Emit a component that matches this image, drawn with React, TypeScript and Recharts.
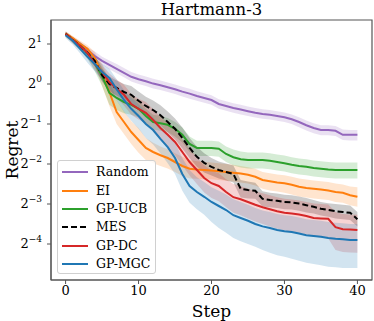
import React from "react";
import { ComposedChart, Line, Area, XAxis, YAxis, ReferenceArea, Label } from "recharts";

// log2(regret) per step
const steps = [0, 1, 2, 3, 4, 5, 6, 7, 8, 9, 10, 11, 12, 13, 14, 15, 16, 17, 18, 19, 20, 21, 22, 23, 24, 25, 26, 27, 28, 29, 30, 31, 32, 33, 34, 35, 36, 37, 38, 39, 40];

const randomMean = [1.27, 1.12, 0.98, 0.85, 0.7, 0.58, 0.48, 0.38, 0.28, 0.18, 0.12, 0.07, 0.01, -0.03, -0.08, -0.13, -0.19, -0.24, -0.3, -0.35, -0.4, -0.5, -0.55, -0.6, -0.64, -0.68, -0.72, -0.75, -0.77, -0.8, -0.83, -0.88, -0.95, -1.03, -1.1, -1.15, -1.15, -1.17, -1.27, -1.27, -1.27];
const randomHi = [1.32, 1.18, 1.05, 0.92, 0.81, 0.68, 0.59, 0.5, 0.4, 0.3, 0.24, 0.19, 0.13, 0.09, 0.04, -0.01, -0.07, -0.12, -0.18, -0.23, -0.28, -0.38, -0.43, -0.48, -0.52, -0.56, -0.6, -0.63, -0.65, -0.68, -0.71, -0.76, -0.83, -0.91, -0.98, -1.03, -1.03, -1.05, -1.14, -1.15, -1.15];
const randomLo = [1.2, 1.05, 0.9, 0.77, 0.6, 0.48, 0.37, 0.27, 0.17, 0.06, 0.0, -0.05, -0.11, -0.15, -0.2, -0.25, -0.31, -0.37, -0.42, -0.47, -0.52, -0.62, -0.67, -0.72, -0.76, -0.8, -0.84, -0.87, -0.89, -0.92, -0.95, -1.0, -1.08, -1.16, -1.23, -1.28, -1.28, -1.3, -1.4, -1.41, -1.41];

const eiMean = [1.27, 1.14, 1.0, 0.88, 0.65, 0.25, -0.2, -0.7, -0.95, -1.2, -1.4, -1.6, -1.7, -1.78, -1.85, -1.95, -2.05, -2.12, -2.14, -2.15, -2.16, -2.18, -2.2, -2.22, -2.24, -2.27, -2.32, -2.4, -2.43, -2.46, -2.48, -2.52, -2.57, -2.6, -2.62, -2.64, -2.66, -2.7, -2.72, -2.78, -2.82];
const eiHi = [1.32, 1.2, 1.08, 0.97, 0.8, 0.5, 0.1, -0.4, -0.68, -0.93, -1.1, -1.35, -1.47, -1.56, -1.63, -1.73, -1.82, -1.9, -1.93, -1.95, -1.96, -1.98, -2.0, -2.02, -2.05, -2.08, -2.12, -2.2, -2.23, -2.26, -2.28, -2.32, -2.36, -2.39, -2.41, -2.43, -2.45, -2.49, -2.51, -2.56, -2.58];
const eiLo = [1.2, 1.06, 0.9, 0.75, 0.45, -0.05, -0.55, -1.0, -1.25, -1.5, -1.72, -1.9, -1.98, -2.05, -2.11, -2.2, -2.3, -2.36, -2.37, -2.38, -2.38, -2.4, -2.42, -2.44, -2.46, -2.49, -2.54, -2.62, -2.66, -2.69, -2.72, -2.76, -2.81, -2.84, -2.86, -2.88, -2.9, -2.95, -2.97, -3.03, -3.07];

const ucbMean = [1.25, 1.1, 0.95, 0.78, 0.52, 0.2, -0.22, -0.35, -0.45, -0.52, -0.62, -0.8, -0.95, -0.98, -1.02, -1.12, -1.27, -1.5, -1.6, -1.6, -1.6, -1.62, -1.75, -1.83, -1.88, -1.9, -1.9, -1.9, -1.92, -1.95, -1.98, -2.02, -2.05, -2.07, -2.1, -2.12, -2.14, -2.15, -2.15, -2.15, -2.15];
const ucbHi = [1.3, 1.17, 1.04, 0.9, 0.7, 0.43, 0.05, -0.1, -0.22, -0.3, -0.42, -0.62, -0.77, -0.8, -0.85, -0.95, -1.09, -1.31, -1.42, -1.42, -1.42, -1.44, -1.56, -1.64, -1.69, -1.71, -1.71, -1.71, -1.73, -1.76, -1.79, -1.83, -1.86, -1.88, -1.91, -1.93, -1.95, -1.96, -1.96, -1.96, -1.96];
const ucbLo = [1.18, 1.02, 0.84, 0.63, 0.32, -0.05, -0.52, -0.65, -0.73, -0.77, -0.84, -1.0, -1.14, -1.17, -1.2, -1.31, -1.46, -1.7, -1.8, -1.8, -1.8, -1.82, -1.95, -2.04, -2.09, -2.11, -2.11, -2.11, -2.13, -2.16, -2.19, -2.23, -2.26, -2.28, -2.31, -2.33, -2.35, -2.36, -2.36, -2.36, -2.36];

const mesMean = [1.25, 1.1, 0.95, 0.78, 0.58, 0.22, 0.0, -0.1, -0.2, -0.27, -0.42, -0.55, -0.65, -0.78, -0.95, -1.12, -1.35, -1.6, -1.82, -1.97, -2.07, -2.15, -2.2, -2.25, -2.62, -2.65, -2.67, -2.87, -2.9, -2.92, -2.95, -2.96, -2.99, -3.03, -3.07, -3.12, -3.15, -3.18, -3.2, -3.22, -3.38];
const mesHi = [1.3, 1.17, 1.04, 0.9, 0.72, 0.38, 0.18, 0.09, 0.0, -0.05, -0.19, -0.32, -0.41, -0.53, -0.69, -0.86, -1.09, -1.35, -1.57, -1.73, -1.85, -1.94, -1.99, -2.04, -2.4, -2.44, -2.47, -2.68, -2.72, -2.74, -2.77, -2.78, -2.81, -2.85, -2.9, -2.95, -2.98, -3.0, -3.02, -3.04, -3.2];
const mesLo = [1.2, 1.03, 0.86, 0.66, 0.44, 0.06, -0.18, -0.29, -0.4, -0.49, -0.65, -0.78, -0.89, -1.03, -1.21, -1.38, -1.61, -1.85, -2.07, -2.21, -2.29, -2.36, -2.41, -2.46, -2.84, -2.86, -2.87, -3.06, -3.08, -3.1, -3.13, -3.14, -3.17, -3.21, -3.24, -3.29, -3.32, -3.36, -3.38, -3.4, -3.56];

const dcMean = [1.25, 1.1, 0.95, 0.78, 0.5, 0.3, 0.05, -0.12, -0.27, -0.5, -0.62, -0.72, -0.9, -1.1, -1.27, -1.45, -1.7, -1.95, -2.15, -2.35, -2.48, -2.55, -2.7, -2.83, -2.88, -2.95, -3.02, -3.08, -3.13, -3.18, -3.22, -3.24, -3.26, -3.3, -3.35, -3.36, -3.37, -3.58, -3.63, -3.64, -3.65];
const dcHi = [1.3, 1.17, 1.05, 0.9, 0.65, 0.48, 0.26, 0.11, -0.02, -0.25, -0.37, -0.45, -0.63, -0.82, -0.97, -1.15, -1.38, -1.62, -1.83, -2.03, -2.17, -2.23, -2.38, -2.5, -2.55, -2.62, -2.68, -2.73, -2.78, -2.83, -2.87, -2.89, -2.91, -2.95, -2.99, -3.0, -3.01, -3.2, -3.25, -3.26, -3.27];
const dcLo = [1.18, 1.02, 0.85, 0.65, 0.35, 0.1, -0.18, -0.36, -0.54, -0.77, -0.89, -0.99, -1.19, -1.4, -1.59, -1.78, -2.04, -2.29, -2.5, -2.71, -2.85, -2.93, -3.08, -3.22, -3.28, -3.36, -3.44, -3.5, -3.56, -3.62, -3.66, -3.69, -3.72, -3.76, -3.82, -3.84, -3.86, -4.15, -4.2, -4.21, -4.22];

const mgcMean = [1.22, 1.08, 0.88, 0.68, 0.5, 0.3, 0.15, -0.13, -0.4, -0.62, -0.8, -1.0, -1.15, -1.37, -1.58, -1.85, -2.25, -2.55, -2.7, -2.82, -2.95, -3.05, -3.15, -3.28, -3.35, -3.42, -3.5, -3.56, -3.6, -3.65, -3.68, -3.7, -3.74, -3.78, -3.8, -3.82, -3.85, -3.87, -3.88, -3.9, -3.9];
const mgcHi = [1.28, 1.15, 0.98, 0.81, 0.66, 0.5, 0.38, 0.12, -0.15, -0.34, -0.5, -0.7, -0.83, -1.04, -1.23, -1.47, -1.85, -2.15, -2.33, -2.45, -2.58, -2.67, -2.76, -2.88, -2.95, -3.02, -3.1, -3.16, -3.2, -3.25, -3.28, -3.3, -3.34, -3.38, -3.4, -3.42, -3.45, -3.47, -3.48, -3.5, -3.5];
const mgcLo = [1.15, 0.98, 0.76, 0.53, 0.32, 0.08, -0.1, -0.41, -0.7, -0.92, -1.12, -1.35, -1.51, -1.74, -1.98, -2.25, -2.67, -2.97, -3.13, -3.27, -3.45, -3.6, -3.72, -3.85, -3.93, -4.0, -4.07, -4.15, -4.22, -4.28, -4.32, -4.37, -4.42, -4.47, -4.5, -4.53, -4.57, -4.58, -4.6, -4.6, -4.6];

const xTicks = [0, 10, 20, 30, 40];
const yTicks = [-4, -3, -2, -1, 0, 1];

const series = [
  { key: "random", name: "Random", color: "#9467bd", mean: randomMean, lo: randomLo, hi: randomHi, dash: undefined },
  { key: "ei", name: "EI", color: "#ff7f0e", mean: eiMean, lo: eiLo, hi: eiHi, dash: undefined },
  { key: "ucb", name: "GP-UCB", color: "#2ca02c", mean: ucbMean, lo: ucbLo, hi: ucbHi, dash: undefined },
  { key: "mes", name: "MES", color: "#000000", mean: mesMean, lo: mesLo, hi: mesHi, dash: "6 3" },
  { key: "dc", name: "GP-DC", color: "#d62728", mean: dcMean, lo: dcLo, hi: dcHi, dash: undefined },
  { key: "mgc", name: "GP-MGC", color: "#1f77b4", mean: mgcMean, lo: mgcLo, hi: mgcHi, dash: undefined },
];

const data = steps.map((s, i) => {
  const row: Record<string, any> = { step: s };
  series.forEach((sr) => {
    row[sr.key] = sr.mean[i];
    row[sr.key + "Band"] = [sr.lo[i], sr.hi[i]];
  });
  return row;
});

const FONT = "'DejaVu Serif', serif";

const PowTick = (props: any) => {
  const { x, y, payload } = props;
  const v = payload.value;
  const exp = v < 0 ? "\u2212" + -v : String(v);
  return (
    <text x={x} y={y} dy={4} textAnchor="end" fontFamily={FONT} fontSize={13} fill="#000">
      2<tspan dy={-6} fontSize={9}>{exp}</tspan>
    </text>
  );
};

export default function App() {
  return (
    <div style={{ position: "absolute", left: 0, top: 0, width: 374, height: 321, background: "#fff" }}>
      <div
        style={{
          position: "absolute", left: 51, top: 0, width: 321, textAlign: "center",
          fontFamily: FONT, fontSize: 16.5, lineHeight: "19px", color: "#000",
        }}
      >
        Hartmann-3
      </div>
      <ComposedChart width={374} height={321} data={data} margin={{ top: 20, right: 2, left: 0, bottom: 0 }}>
        <XAxis
          dataKey="step"
          type="number"
          domain={[-2, 42]}
          ticks={xTicks}
          height={41}
          tickSize={4}
          tickMargin={2}
          stroke="#555"
          tick={{ fill: "#000", fontFamily: FONT, fontSize: 13 }}
        >
          <Label value="Step" position="insideBottom" offset={4} fill="#000" fontFamily={FONT} fontSize={17} />
        </XAxis>
        <YAxis
          type="number"
          domain={[-4.9, 1.6]}
          ticks={yTicks}
          allowDataOverflow
          width={51}
          tickSize={4}
          tickMargin={5}
          stroke="#555"
          tick={<PowTick />}
        >
          <Label
            content={() => (
              <text x={12} y={150} transform="rotate(-90 12 150)" textAnchor="middle" dominantBaseline="central" fontFamily={FONT} fontSize={17} fill="#000">
                Regret
              </text>
            )}
          />
        </YAxis>
        {series.map((sr) => (
          <Area
            key={sr.key + "Band"}
            dataKey={sr.key + "Band"}
            type="linear"
            stroke="none"
            fill={sr.color}
            fillOpacity={0.2}
            isAnimationActive={false}
            activeDot={false}
          />
        ))}
        {series.map((sr) => (
          <Line
            key={sr.key}
            dataKey={sr.key}
            type="linear"
            stroke={sr.color}
            strokeWidth={2}
            strokeDasharray={sr.dash}
            dot={false}
            activeDot={false}
            isAnimationActive={false}
          />
        ))}
        <ReferenceArea x1={-2} x2={42} y1={-4.9} y2={1.6} fill="none" stroke="#555" strokeWidth={1.2} />
      </ComposedChart>
      <div
        style={{
          position: "absolute", left: 57, top: 160, width: 99, height: 114, boxSizing: "border-box",
          border: "1px solid #d0d0d0", borderRadius: 3, background: "rgba(255,255,255,0.8)", paddingTop: 2,
        }}
      >
        {series.map((sr) => (
          <div key={sr.key} style={{ display: "flex", alignItems: "center", height: 18.4 }}>
            <svg width={38} height={6} style={{ flex: "none" }}>
              <line x1={4} x2={30} y1={3} y2={3} stroke={sr.color} strokeWidth={2} strokeDasharray={sr.dash} />
            </svg>
            <span style={{ fontFamily: FONT, fontSize: 12.5, color: "#000", lineHeight: "18px" }}>{sr.name}</span>
          </div>
        ))}
      </div>
    </div>
  );
}
